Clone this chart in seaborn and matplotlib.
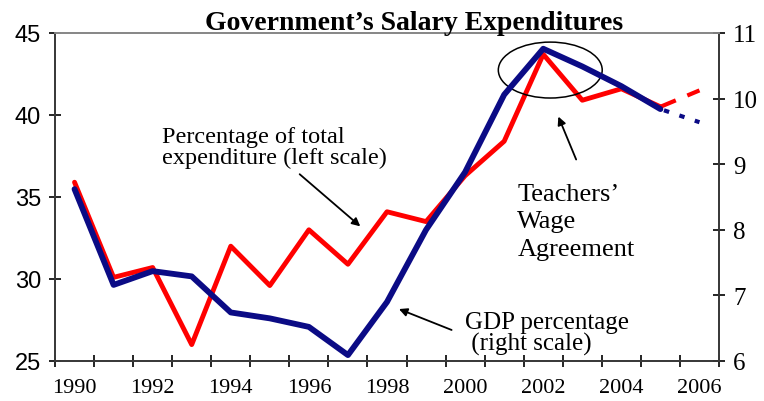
import numpy as np
import pandas as pd
import seaborn as sns
import matplotlib.pyplot as plt
from matplotlib.patches import Ellipse
from matplotlib.ticker import FixedLocator

# data
years = [1990, 1991, 1992, 1993, 1994, 1995, 1996, 1997,
         1998, 1999, 2000, 2001, 2002, 2003, 2004, 2005]
pct_total = [35.9, 30.1, 30.7, 26.0, 32.0, 29.6, 33.0, 30.9,
             34.1, 33.5, 36.3, 38.4, 43.7, 40.9, 41.6, 40.5]
gdp_pct = [8.62, 7.16, 7.37, 7.29, 6.74, 6.65, 6.52, 6.09,
           6.90, 8.00, 8.88, 10.06, 10.76, 10.49, 10.19, 9.84]
proj_years = [2005, 2006]
pct_proj = [40.5, 41.5]
gdp_proj = [9.84, 9.64]
year_labels = [str(y) for y in range(1990, 2007, 2)]

RED = "#ff0000"
NAVY = "#0b0b85"
SERIF = "Liberation Serif"

sns.set_style("ticks")
plt.rcParams["font.family"] = [SERIF, "DejaVu Serif"]
plt.rcParams["text.color"] = "black"
plt.rcParams["xtick.color"] = "black"
plt.rcParams["ytick.color"] = "black"

fig = plt.figure(figsize=(7.64, 4.02), dpi=100)
ax1 = fig.add_axes([55 / 764, 40 / 402, 664 / 764, 328 / 402])
ax2 = ax1.twinx()

df = pd.DataFrame({"year": years, "pct": pct_total, "gdp": gdp_pct})
proj = pd.DataFrame({"year": proj_years, "pct": pct_proj, "gdp": gdp_proj})

sns.lineplot(data=df, x="year", y="pct", ax=ax1, color=RED, lw=3.5, legend=False)
sns.lineplot(data=proj, x="year", y="pct", ax=ax1, color=RED, lw=3.0,
             linestyle=(0, (4, 3)), legend=False)
sns.lineplot(data=df, x="year", y="gdp", ax=ax2, color=NAVY, lw=4.2, legend=False)
sns.lineplot(data=proj, x="year", y="gdp", ax=ax2, color=NAVY, lw=3.0,
             linestyle=(3, (1.3, 2.6)), legend=False)

ax1.set_xlim(1989.5, 2006.5)
ax1.set_ylim(25, 45)
ax2.set_ylim(6, 11)
ax1.set_xlabel("")
ax1.set_ylabel("")
ax2.set_ylabel("")

# x axis: tick marks between years, labels every other year
ax1.xaxis.set_major_locator(FixedLocator(list(range(1990, 2007, 2))))
ax1.set_xticklabels(year_labels, fontsize=16, family=SERIF)
ax1.xaxis.set_minor_locator(FixedLocator(list(np.arange(1989.5, 2007, 1.0))))
ax1.tick_params(axis="x", which="major", length=0, pad=12)
ax1.tick_params(axis="x", which="minor", length=8, direction="inout", width=1.2)

ax1.set_yticks([25, 30, 35, 40, 45])
ax1.set_yticklabels(["25", "30", "35", "40", "45"], fontsize=17,
                    family="Liberation Sans")
ax1.tick_params(axis="y", length=8, direction="inout", width=1.2, pad=6)
ax2.set_yticks([6, 7, 8, 9, 10, 11])
ax2.set_yticklabels(["6", "7", "8", "9", "10", "11"], fontsize=18, family=SERIF)
ax2.tick_params(axis="y", length=8, direction="inout", width=1.2, pad=6)

for ax in (ax1, ax2):
    for s in ax.spines.values():
        s.set_visible(True)
        s.set_color("#3a3a3a")
        s.set_linewidth(1.3)
ax1.spines["top"].set_color("#888888")
ax2.spines["top"].set_color("#888888")

fig.text(414 / 764, 0.925, "Government\u2019s Salary Expenditures",
         ha="center", va="baseline", fontsize=20, weight="bold", family=SERIF)

# annotations
ax1.text(1992.24, 39.3, "Percentage of total\nexpenditure (left scale)",
         fontsize=17.5, va="top", ha="left", linespacing=0.95)
ax1.annotate("", xy=(1997.37, 33.1), xytext=(1995.71, 36.5),
             arrowprops=dict(arrowstyle="-|>", color="black", lw=1.3,
                             mutation_scale=12))

ax1.text(2000.0, 28.05, "GDP percentage\n (right scale)",
         fontsize=18, va="top", ha="left", linespacing=0.95)
ax1.annotate("", xy=(1998.24, 28.23), xytext=(1999.72, 26.83),
             arrowprops=dict(arrowstyle="-|>", color="black", lw=1.3,
                             mutation_scale=12))

ax1.text(2001.34, 35.85, "Teachers\u2019\nWage\nAgreement",
         fontsize=19, va="top", ha="left", linespacing=1.32)
ax1.annotate("", xy=(2002.36, 40.06), xytext=(2002.87, 37.13),
             arrowprops=dict(arrowstyle="-|>", color="black", lw=1.3,
                             mutation_scale=12))

ax1.add_patch(Ellipse((2002.18, 42.74), 2.66, 3.41, fill=False,
                      edgecolor="black", lw=1.1, zorder=5, clip_on=False))

fig.savefig("out.png", dpi=100)
